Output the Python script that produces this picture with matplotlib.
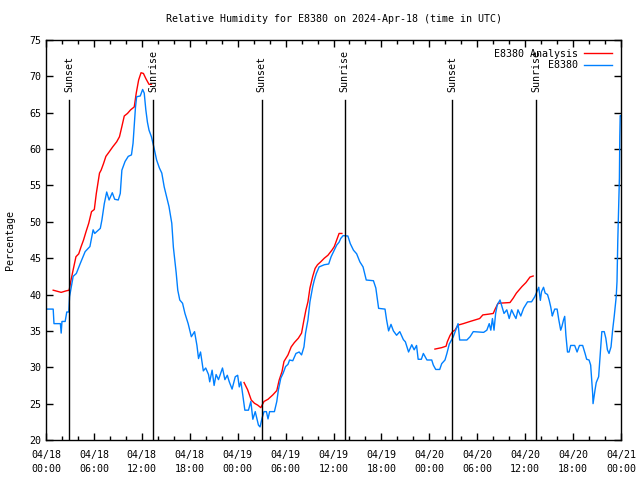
import numpy as np
import pandas as pd
import matplotlib
matplotlib.use("Agg")
import matplotlib.pyplot as plt
import matplotlib.dates as mdates

plt.rcParams['font.family'] = ['DejaVu Sans Mono']

start = pd.Timestamp("2024-04-18 00:00")

# Observed E8380 (hours since start, percentage)
obs_hours = [0.0, 0.9, 1.0, 1.8, 1.9, 2.0, 2.4, 2.6, 2.85, 2.95, 3.4, 3.8, 4.3, 4.9, 5.5, 5.9, 6.1, 6.8, 7.0,
             7.3, 7.6, 7.9, 8.3, 8.6, 9.05, 9.3, 9.5, 9.9, 10.3, 10.7, 10.9, 11.2, 11.35, 11.8, 12.1, 12.3,
             12.5, 12.7, 12.9, 13.2, 13.5, 13.85, 14.2, 14.5, 14.8, 15.1, 15.4, 15.75, 15.95, 16.3, 16.5,
             16.75, 17.1, 17.4, 17.8, 18.2, 18.6, 18.9, 19.1, 19.35, 19.7, 20.0, 20.35, 20.5, 20.8, 21.05,
             21.3, 21.6, 22.1, 22.4, 22.7, 22.95, 23.3, 23.7, 24.0, 24.2, 24.4, 24.55, 24.9, 25.35, 25.65,
             25.9, 26.2, 26.6, 26.8, 27.05, 27.3, 27.6, 27.8, 28.0, 28.6, 28.9, 29.1, 29.4, 29.7, 30.0,
             30.3, 30.5, 30.9, 31.3, 31.7, 32.0, 32.3, 32.5, 32.8, 33.05, 33.4, 33.6, 33.85, 34.2, 34.85,
             35.4, 35.7, 36.1, 36.4, 36.7, 36.9, 37.2, 37.8, 38.1, 38.5, 38.9, 39.3, 39.7, 40.1, 41.0,
             41.3, 41.65, 42.45, 42.65, 42.9, 43.2, 43.5, 43.9, 44.3, 44.75, 45.0, 45.4, 45.8, 46.1, 46.4,
             46.6, 47.0, 47.25, 47.7, 48.3, 48.5, 48.8, 49.3, 49.55, 49.96, 50.2, 50.5, 51.0, 51.3, 51.6,
             51.8, 52.7, 53.1, 53.5, 54.8, 55.2, 55.5, 55.7, 55.9, 56.1, 56.3, 56.5, 56.85, 57.1, 57.35,
             57.7, 58.0, 58.3, 58.6, 58.85, 59.1, 59.45, 59.8, 60.3, 60.8, 61.2, 61.4, 61.7, 61.9, 62.05,
             62.3, 62.5, 62.8, 63.0, 63.2, 63.4, 63.5, 63.7, 64.0, 64.2, 64.45, 64.6, 64.8, 64.95, 65.1,
             65.3, 65.5, 65.7, 66.2, 66.5, 66.8, 67.2, 67.5, 67.7, 68.0, 68.2, 68.3, 68.45, 68.5, 68.75,
             68.9, 69.2, 69.4, 69.6, 69.9, 70.1, 70.3, 70.5, 70.75, 70.95, 71.15, 71.4, 71.5, 71.6, 71.8,
             71.85, 71.9, 72.0]
obs_values = [38.0, 38.0, 36.0, 36.0, 34.7, 36.3, 36.3, 37.6, 37.6, 39.7, 42.5, 42.9, 44.3, 45.9, 46.6, 48.9, 48.4, 49.1, 50.25,
              52.5, 54.1, 53.0, 54.0, 53.1, 53.0, 53.9, 57.1, 58.3, 59.0, 59.2, 60.8, 65.7, 67.2, 67.3, 68.2, 67.7,
              65.4, 63.7, 62.6, 61.7, 60.3, 58.5, 57.4, 56.7, 54.8, 53.45, 52.1, 49.8, 46.5, 43.0, 40.6,
              39.25, 38.8, 37.4, 36.0, 34.2, 34.9, 33.0, 31.2, 32.1, 29.5, 29.9, 29.0, 28.0, 29.6, 27.5,
              29.0, 28.3, 29.9, 28.3, 28.9, 28.0, 27.0, 28.7, 28.9, 27.3, 28.0, 26.9, 24.1, 24.1, 25.3,
              22.85, 23.9, 22.05, 21.8, 23.0, 23.9, 23.9, 22.9, 23.9, 23.9, 25.3, 26.9, 28.5, 29.2, 30.1,
              30.4, 31.0, 30.9, 31.9, 32.1, 31.7, 32.8, 34.7, 36.5, 39.0, 41.1, 42.0, 42.9, 43.8, 44.1,
              44.2, 45.2, 46.1, 46.8, 47.2, 47.7, 48.1, 48.05, 47.0, 46.1, 45.6, 44.5, 43.8, 42.0, 41.9,
              40.9, 38.1, 38.0, 36.5, 35.0, 35.9, 35.0, 34.4, 34.9, 33.8, 33.5, 32.1, 33.1, 32.4, 33.0,
              31.1, 31.1, 31.9, 31.0, 31.0, 30.3, 29.7, 29.7, 30.5, 31.0, 31.9, 33.2, 34.2, 35.1, 36.0,
              33.75, 33.75, 34.2, 34.9, 34.8, 35.1, 36.0, 35.1, 36.7, 35.1, 37.4, 38.55, 39.25, 38.3, 37.4,
              37.9, 36.7, 37.9, 37.2, 36.7, 37.9, 37.05, 38.1, 39.0, 39.0, 39.7, 40.2, 41.0, 39.2, 40.4,
              41.0, 40.2, 40.0, 39.25, 38.3, 37.05, 37.4, 38.0, 38.0, 36.6, 35.1, 35.6, 36.5, 37.0, 34.4,
              32.1, 32.1, 33.0, 33.0, 32.1, 33.0, 33.0, 31.9, 31.1, 31.0, 30.3, 28.7, 26.4, 25.0, 26.9,
              27.9, 28.7, 31.9, 34.9, 34.9, 34.0, 32.4, 31.9, 32.8, 35.1, 37.0, 39.7, 41.8, 47.5, 56.0,
              61.7, 64.6, 64.6]

# Analysis (three separate segments, NaN = gap)
ana_hours = [0.9, 1.9, 2.5, 2.9, 3.1, 3.4, 3.75, 4.1, 4.4, 4.7, 5.0, 5.35, 5.7, 6.05, 6.3, 6.5, 6.7, 6.9,
             7.2, 7.5, 7.9, 8.35, 8.85, 9.2, 9.5, 9.8, 10.2, 10.6, 11.05, 11.3, 11.6, 11.9, 12.2, 12.5,
             12.9, 13.2, 13.3,
             24.8, 25.25, 25.7, 26.1, 26.5, 26.9, 27.3, 27.8, 28.4, 28.9, 29.2, 29.55, 29.8, 30.3, 30.7,
             31.1, 31.6, 32.0, 32.3, 32.55, 32.8, 33.05, 33.4, 33.7, 34.0, 34.4, 34.85, 35.3, 35.8, 36.1,
             36.4, 36.7, 37.05, 37.1,
             48.7, 49.55, 50.1, 50.25, 50.6, 50.9, 51.2, 51.6, 52.25, 53.1, 53.7, 54.3, 54.7, 55.4, 56.0,
             56.2, 56.6, 58.1, 58.5, 58.9, 59.6, 60.1, 60.6, 61.0]
ana_values = [40.6, 40.3, 40.5, 40.6, 41.8, 43.4, 45.2, 45.6, 46.6, 47.5, 48.6, 49.8, 51.4, 51.7, 53.9, 55.3, 56.7, 57.1,
              58.0, 59.0, 59.6, 60.3, 61.0, 61.7, 63.1, 64.55, 64.9, 65.4, 65.8, 67.7, 69.5, 70.5, 70.4, 69.7,
              68.9, 68.9, np.nan,
              27.9, 26.9, 25.5, 25.05, 24.8, 24.45, 25.3, 25.6, 26.2, 26.8, 28.25, 29.4, 30.8, 31.7, 32.8,
              33.4, 34.0, 34.7, 36.5, 37.9, 39.0, 40.9, 42.5, 43.6, 44.1, 44.5, 45.0, 45.4, 46.1, 46.6,
              47.5, 48.4, 48.4, np.nan,
              32.5, 32.7, 32.9, 33.5, 34.4, 34.9, 35.1, 35.8, 36.0, 36.3, 36.5, 36.7, 37.2, 37.3, 37.4,
              37.9, 38.8, 38.9, 39.5, 40.2, 41.1, 41.65, 42.4, 42.55]

sun_hours = [2.9, 13.4, 27.0, 37.4, 50.9, 61.4]
sun_labels = ["Sunset", "Sunrise", "Sunset", "Sunrise", "Sunset", "Sunrise"]

title = "Relative Humidity for E8380 on 2024-Apr-18 (time in UTC)"
ylabel = "Percentage"

def to_time(h):
    return start + pd.to_timedelta(np.asarray(h, dtype=float), unit="h")

fig = plt.figure(figsize=(6.4, 4.8), dpi=100)
ax = fig.add_axes([46/640, 40/480, 575/640, 400/480])

ax.plot(to_time(ana_hours), ana_values, color="#ff0000", lw=1.0, label="E8380 Analysis")
ax.plot(to_time(obs_hours), obs_values, color="#0080ff", lw=1.0, label="E8380")

for h, lab in zip(sun_hours, sun_labels):
    t = to_time([h])[0]
    ax.plot([t, t], [20, 66.8], color="black", lw=1.0)
    ax.text(t, 67.8, lab, rotation=90, ha="center", va="bottom", fontsize=7.2)

ax.set_xlim(start, start + pd.Timedelta(hours=72))
ax.set_ylim(20, 75)
ax.set_yticks(np.arange(20, 76, 5))
ax.xaxis.set_major_locator(mdates.HourLocator(byhour=[0, 6, 12, 18]))
ax.xaxis.set_minor_locator(mdates.HourLocator(byhour=range(0, 24, 2)))
ax.xaxis.set_major_formatter(mdates.DateFormatter("%m/%d\n%H:%M"))

ax.tick_params(axis="both", which="both", direction="in", top=True, right=True, labelsize=7.2)
ax.tick_params(axis="both", which="major", length=5, width=1)
ax.tick_params(axis="x", which="minor", length=3, width=1)
ax.tick_params(axis="x", pad=7)
for lbl in ax.get_xticklabels():
    lbl.set_linespacing(1.5)
for s in ax.spines.values():
    s.set_linewidth(1.0)

ax.set_title(title, fontsize=7.2, pad=13)
ax.set_ylabel(ylabel, fontsize=7.2, labelpad=10)

leg = ax.legend(loc="upper right", frameon=False, fontsize=7.2, markerfirst=False,
                handlelength=2.8, handletextpad=0.6, borderaxespad=0.5, labelspacing=0.15)
for t in leg.get_texts():
    t.set_ha("right")

fig.savefig("out.png", dpi=100)
